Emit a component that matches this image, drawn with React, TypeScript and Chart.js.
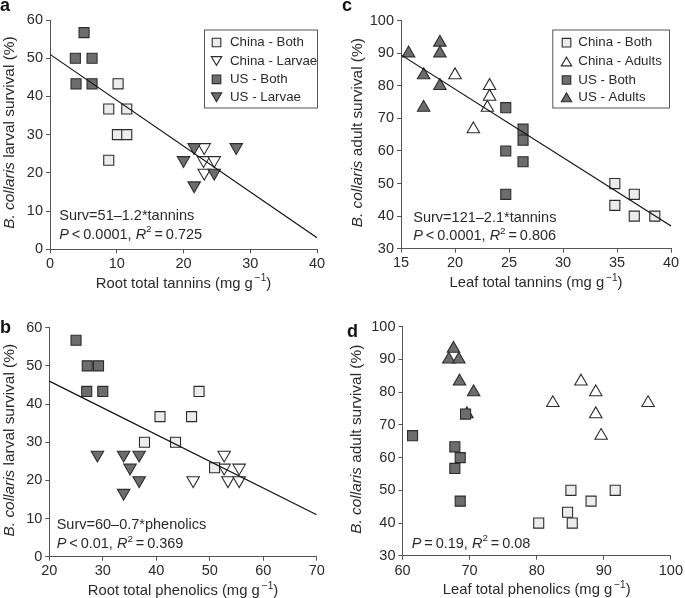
import React, { useEffect, useRef } from "react";
import { Chart, registerables } from "chart.js";

Chart.register(...registerables);

const W = 685;
const H = 598;
const FONT = "'Liberation Sans', Arial, Helvetica, sans-serif";
const TEXT = "#2a2a2a";
const AXIS = "#555555";
const DARK_FILL = "#6d6d6d";
const LIGHT_FILL = "#ececec";
const EDGE = "#2c2c2c";

// ---------- Panel a: root tannins vs larval survival ----------
const aChinaBothX = [10.2, 8.8, 11.5, 10.1, 11.5, 8.8];
const aChinaBothY = [43.3, 36.7, 36.7, 30, 30, 23.3];
const aChinaLarvaeX = [23.1, 23.0, 24.6, 23.1];
const aChinaLarvaeY = [26.7, 23.3, 23.3, 20];
const aUSBothX = [5.1, 3.8, 6.3, 3.9, 6.3];
const aUSBothY = [56.7, 50, 50, 43.3, 43.3];
const aUSLarvaeX = [21.6, 20.0, 24.6, 21.6, 27.9];
const aUSLarvaeY = [26.7, 23.3, 20, 16.7, 26.7];
const aFitX = [0, 40];
const aFitY = [51, 3];

// ---------- Panel b: root phenolics vs larval survival ----------
const bChinaBothX = [48.0, 40.7, 46.6, 37.8, 43.6, 50.9];
const bChinaBothY = [43.3, 36.7, 36.7, 30, 30, 23.3];
const bChinaLarvaeX = [52.7, 52.7, 55.5, 46.9, 53.4, 55.5];
const bChinaLarvaeY = [26.7, 23.3, 23.3, 20, 20, 20];
const bUSBothX = [25.0, 27.1, 29.2, 27.0, 30.0];
const bUSBothY = [56.7, 50, 50, 43.3, 43.3];
const bUSLarvaeX = [29.0, 33.9, 36.8, 35.1, 36.8, 33.9];
const bUSLarvaeY = [26.7, 26.7, 26.7, 23.3, 20, 16.7];
const bFitX = [20, 70];
const bFitY = [46, 11];

// ---------- Panel c: leaf tannins vs adult survival ----------
const cChinaBothX = [34.8, 34.8, 36.6, 36.6, 38.5];
const cChinaBothY = [50, 43.3, 46.7, 40, 40];
const cChinaAdultsX = [20.0, 23.2, 23.2, 23.0, 21.7];
const cChinaAdultsY = [83.3, 80, 76.7, 73.3, 66.7];
const cUSBothX = [24.7, 24.7, 24.7, 26.3, 26.3, 26.3];
const cUSBothY = [73.3, 60, 46.7, 66.7, 63.3, 56.7];
const cUSAdultsX = [15.7, 18.6, 18.6, 17.1, 18.6, 17.1];
const cUSAdultsY = [90, 93.3, 90, 83.3, 80, 73.3];
const cFitX = [15, 40];
const cFitY = [89.5, 37];

// ---------- Panel d: leaf phenolics vs adult survival ----------
const dChinaBothX = [80.3, 85.3, 85.1, 84.6, 88.1, 91.7];
const dChinaBothY = [40, 40, 50, 43.3, 46.7, 50];
const dChinaAdultsX = [82.4, 86.6, 88.8, 88.8, 89.6, 96.6];
const dChinaAdultsY = [76.7, 83.3, 80, 73.3, 66.7, 76.7];
const dUSBothX = [61.5, 67.8, 68.6, 67.8, 68.6, 69.4];
const dUSBothY = [66.7, 63.3, 60, 56.7, 46.7, 73.3];
const dUSAdultsX = [67.6, 66.9, 68.4, 68.5, 70.6, 69.6];
const dUSAdultsY = [93.3, 90, 90, 83.3, 80, 73.3];

type Seg = { t: string; i?: boolean; sup?: boolean };
type Kind = "chinaBoth" | "chinaDown" | "chinaUp" | "usBoth" | "usDown" | "usUp";

const KIND_STYLE: Record<Kind, { shape: "rect" | "triangle"; rot: number; fill: string }> = {
  chinaBoth: { shape: "rect", rot: 0, fill: LIGHT_FILL },
  chinaDown: { shape: "triangle", rot: 180, fill: "#ffffff" },
  chinaUp: { shape: "triangle", rot: 0, fill: "#ffffff" },
  usBoth: { shape: "rect", rot: 0, fill: DARK_FILL },
  usDown: { shape: "triangle", rot: 180, fill: DARK_FILL },
  usUp: { shape: "triangle", rot: 0, fill: DARK_FILL },
};

type Series = { label: string; kind: Kind; x: number[]; y: number[]; order: number };

type Panel = {
  letter: string;
  letterX: number;
  letterY: number;
  area: { l: number; r: number; t: number; b: number };
  xr: [number, number, number];
  yr: [number, number, number];
  xTitle: string;
  yTitleMid: string;
  yTitleX: number;
  series: Series[];
  fit?: { x: number[]; y: number[] };
  notes: { x: number; y: number; segs: Seg[] }[];
  legend?: { box: [number, number, number, number]; mx: number; tx: number; rows: number[] };
};

const panels: Panel[] = [
  {
    letter: "a",
    letterX: 0,
    letterY: 11,
    area: { l: 50, r: 317, t: 20, b: 249.3 },
    xr: [0, 40, 10],
    yr: [0, 60, 10],
    xTitle: "Root total tannins",
    yTitleMid: " larval survival (%)",
    yTitleX: 10,
    series: [
      { label: "China - Both", kind: "chinaBoth", x: aChinaBothX, y: aChinaBothY, order: 2 },
      { label: "China - Larvae", kind: "chinaDown", x: aChinaLarvaeX, y: aChinaLarvaeY, order: 4 },
      { label: "US - Both", kind: "usBoth", x: aUSBothX, y: aUSBothY, order: 1 },
      { label: "US - Larvae", kind: "usDown", x: aUSLarvaeX, y: aUSLarvaeY, order: 3 },
    ],
    fit: { x: aFitX, y: aFitY },
    notes: [
      { x: 59.3, y: 216, segs: [{ t: "Surv=51\u20131.2*tannins" }] },
      {
        x: 59.3,
        y: 234.5,
        segs: [{ t: "P", i: true }, { t: "\u2009<\u20090.0001, " }, { t: "R", i: true }, { t: "2", sup: true }, { t: "\u2009=\u20090.725" }],
      },
    ],
    legend: { box: [204, 29.5, 317, 107.5], mx: 216.5, tx: 230, rows: [42.5, 61, 79.3, 97.3] },
  },
  {
    letter: "c",
    letterX: 342,
    letterY: 11,
    area: { l: 401, r: 671, t: 20.7, b: 248.7 },
    xr: [15, 40, 5],
    yr: [30, 100, 10],
    xTitle: "Leaf total tannins",
    yTitleMid: " adult survival (%)",
    yTitleX: 358,
    series: [
      { label: "China - Both", kind: "chinaBoth", x: cChinaBothX, y: cChinaBothY, order: 2 },
      { label: "China - Adults", kind: "chinaUp", x: cChinaAdultsX, y: cChinaAdultsY, order: 4 },
      { label: "US - Both", kind: "usBoth", x: cUSBothX, y: cUSBothY, order: 1 },
      { label: "US - Adults", kind: "usUp", x: cUSAdultsX, y: cUSAdultsY, order: 3 },
    ],
    fit: { x: cFitX, y: cFitY },
    notes: [
      { x: 413.3, y: 217.7, segs: [{ t: "Surv=121\u20132.1*tannins" }] },
      {
        x: 413.3,
        y: 236.2,
        segs: [{ t: "P", i: true }, { t: "\u2009<\u20090.0001, " }, { t: "R", i: true }, { t: "2", sup: true }, { t: "\u2009=\u20090.806" }],
      },
    ],
    legend: { box: [552.3, 29.5, 669, 107.5], mx: 566.5, tx: 578.3, rows: [42.7, 61.5, 80, 97.3] },
  },
  {
    letter: "b",
    letterX: 0,
    letterY: 333,
    area: { l: 49.3, r: 316.7, t: 327.7, b: 556.7 },
    xr: [20, 70, 10],
    yr: [0, 60, 10],
    xTitle: "Root total phenolics",
    yTitleMid: " larval survival (%)",
    yTitleX: 10,
    series: [
      { label: "China - Both", kind: "chinaBoth", x: bChinaBothX, y: bChinaBothY, order: 2 },
      { label: "China - Larvae", kind: "chinaDown", x: bChinaLarvaeX, y: bChinaLarvaeY, order: 4 },
      { label: "US - Both", kind: "usBoth", x: bUSBothX, y: bUSBothY, order: 1 },
      { label: "US - Larvae", kind: "usDown", x: bUSLarvaeX, y: bUSLarvaeY, order: 3 },
    ],
    fit: { x: bFitX, y: bFitY },
    notes: [
      { x: 56.7, y: 525, segs: [{ t: "Surv=60\u20130.7*phenolics" }] },
      {
        x: 56.7,
        y: 544.3,
        segs: [{ t: "P", i: true }, { t: "\u2009<\u20090.01, " }, { t: "R", i: true }, { t: "2", sup: true }, { t: "\u2009=\u20090.369" }],
      },
    ],
  },
  {
    letter: "d",
    letterX: 347,
    letterY: 336.5,
    area: { l: 402.5, r: 672.7, t: 326.7, b: 555.8 },
    xr: [60, 100, 10],
    yr: [30, 100, 10],
    xTitle: "Leaf total phenolics",
    yTitleMid: " adult survival (%)",
    yTitleX: 357,
    series: [
      { label: "China - Both", kind: "chinaBoth", x: dChinaBothX, y: dChinaBothY, order: 2 },
      { label: "China - Adults", kind: "chinaUp", x: dChinaAdultsX, y: dChinaAdultsY, order: 4 },
      { label: "US - Both", kind: "usBoth", x: dUSBothX, y: dUSBothY, order: 1 },
      { label: "US - Adults", kind: "usUp", x: dUSAdultsX, y: dUSAdultsY, order: 3 },
    ],
    notes: [
      {
        x: 411.7,
        y: 543.5,
        segs: [{ t: "P", i: true }, { t: "\u2009=\u20090.19, " }, { t: "R", i: true }, { t: "2", sup: true }, { t: "\u2009=\u20090.08" }],
      },
    ],
  },
];

const Y_AXIS_W = 40;
const X_AXIS_H = 30;
const TICK_SIZE = 14.5;
const TITLE_SIZE = 14.8;
const LEGEND_SIZE = 13.3;

function fontFor(s: Seg, size: number) {
  const sz = s.sup ? size * 0.68 : size;
  return `${s.i ? "italic " : ""}${sz}px ${FONT}`;
}

function segsWidth(ctx: CanvasRenderingContext2D, segs: Seg[], size: number) {
  let w = 0;
  for (const s of segs) {
    ctx.font = fontFor(s, size);
    w += ctx.measureText(s.t).width;
  }
  return w;
}

function drawSegs(ctx: CanvasRenderingContext2D, segs: Seg[], x: number, y: number, size: number) {
  let cx = x;
  ctx.textBaseline = "middle";
  ctx.textAlign = "left";
  for (const s of segs) {
    ctx.font = fontFor(s, size);
    ctx.fillText(s.t, cx, s.sup ? y - size * 0.36 : y);
    cx += ctx.measureText(s.t).width;
  }
}

function drawMarker(ctx: CanvasRenderingContext2D, kind: Kind, x: number, y: number) {
  const st = KIND_STYLE[kind];
  ctx.save();
  ctx.fillStyle = st.fill;
  ctx.strokeStyle = EDGE;
  ctx.lineWidth = 1.1;
  ctx.beginPath();
  if (st.shape === "rect") {
    const h = 4.3;
    ctx.rect(x - h, y - h, 2 * h, 2 * h);
  } else {
    const hw = 5.2;
    const hh = 4.4;
    if (st.rot === 180) {
      ctx.moveTo(x - hw, y - hh);
      ctx.lineTo(x + hw, y - hh);
      ctx.lineTo(x, y + hh);
    } else {
      ctx.moveTo(x - hw, y + hh);
      ctx.lineTo(x + hw, y + hh);
      ctx.lineTo(x, y - hh);
    }
    ctx.closePath();
  }
  ctx.fill();
  ctx.stroke();
  ctx.restore();
}

function decorPlugin(p: Panel) {
  return {
    id: "decor_" + p.letter,
    afterDraw(chart: any) {
      const ctx: CanvasRenderingContext2D = chart.ctx;
      const ca = chart.chartArea;
      ctx.save();
      ctx.fillStyle = TEXT;

      // panel letter
      ctx.font = `bold 18px ${FONT}`;
      ctx.textAlign = "left";
      ctx.textBaseline = "alphabetic";
      ctx.fillStyle = "#111";
      ctx.fillText(p.letter, p.letterX, p.letterY);
      ctx.fillStyle = TEXT;

      // x title
      const xSegs: Seg[] = [{ t: p.xTitle + " (mg g" }, { t: "\u2009\u22121", sup: true }, { t: ")" }];
      const xw = segsWidth(ctx, xSegs, TITLE_SIZE);
      drawSegs(ctx, xSegs, (ca.left + ca.right) / 2 - xw / 2, ca.bottom + 34.5, TITLE_SIZE);

      // y title
      const ySegs: Seg[] = [{ t: "B. collaris", i: true }, { t: p.yTitleMid }];
      const yw = segsWidth(ctx, ySegs, TITLE_SIZE + 0.6);
      ctx.save();
      ctx.translate(p.yTitleX, (ca.top + ca.bottom) / 2 - 2);
      ctx.rotate(-Math.PI / 2);
      drawSegs(ctx, ySegs, -yw / 2, 0, TITLE_SIZE + 0.6);
      ctx.restore();

      // annotations
      for (const n of p.notes) drawSegs(ctx, n.segs, n.x, n.y, TICK_SIZE);

      // legend
      if (p.legend) {
        const lg = p.legend;
        ctx.strokeStyle = AXIS;
        ctx.lineWidth = 1;
        ctx.fillStyle = "#ffffff";
        ctx.fillRect(lg.box[0], lg.box[1], lg.box[2] - lg.box[0], lg.box[3] - lg.box[1]);
        ctx.strokeRect(lg.box[0] + 0.5, lg.box[1] + 0.5, lg.box[2] - lg.box[0], lg.box[3] - lg.box[1]);
        p.series.forEach((s, i) => {
          drawMarker(ctx, s.kind, lg.mx, lg.rows[i]);
          ctx.fillStyle = TEXT;
          ctx.font = `${LEGEND_SIZE}px ${FONT}`;
          ctx.textAlign = "left";
          ctx.textBaseline = "middle";
          ctx.fillText(s.label, lg.tx, lg.rows[i]);
        });
      }
      ctx.restore();
    },
  };
}

function axisOpts(min: number, max: number, step: number, isX: boolean) {
  return {
    type: "linear",
    min,
    max,
    ticks: {
      stepSize: step,
      autoSkip: false,
      maxRotation: 0,
      color: TEXT,
      padding: isX ? 2 : 3,
      font: { family: FONT, size: TICK_SIZE },
    },
    grid: {
      display: true,
      drawOnChartArea: false,
      drawTicks: true,
      tickLength: 4,
      color: AXIS,
      lineWidth: 1,
    },
    border: { display: true, color: AXIS, width: 1 },
    afterFit: (s: any) => {
      if (isX) s.height = X_AXIS_H;
      else s.width = Y_AXIS_W;
    },
  };
}

function buildConfig(p: Panel): any {
  const datasets: any[] = p.series.map((s) => {
    const st = KIND_STYLE[s.kind];
    const r = st.shape === "rect" ? 7.1 : 7.2;
    return {
      label: s.label,
      data: s.x.map((v, i) => ({ x: v, y: s.y[i] })),
      pointStyle: st.shape,
      pointRotation: st.rot,
      backgroundColor: st.fill,
      borderColor: EDGE,
      borderWidth: 1.1,
      pointRadius: r,
      pointHoverRadius: r,
      order: s.order,
    };
  });
  if (p.fit) {
    datasets.push({
      label: "fit",
      data: p.fit.x.map((v, i) => ({ x: v, y: p.fit!.y[i] })),
      showLine: true,
      borderColor: "#111111",
      borderWidth: 1.2,
      pointRadius: 0,
      pointHoverRadius: 0,
      fill: false,
      order: 0,
    });
  }
  const a = p.area;
  return {
    type: "scatter",
    data: { datasets },
    options: {
      responsive: false,
      animation: false,
      devicePixelRatio: 1,
      events: [],
      layout: {
        padding: {
          left: a.l - Y_AXIS_W,
          top: a.t,
          right: W - a.r,
          bottom: H - a.b - X_AXIS_H,
        },
      },
      plugins: { legend: { display: false }, tooltip: { enabled: false }, title: { display: false } },
      scales: {
        x: axisOpts(p.xr[0], p.xr[1], p.xr[2], true),
        y: axisOpts(p.yr[0], p.yr[1], p.yr[2], false),
      },
    },
    plugins: [decorPlugin(p)],
  };
}

function PanelCanvas({ panel }: { panel: Panel }) {
  const ref = useRef<HTMLCanvasElement | null>(null);
  useEffect(() => {
    if (!ref.current) return;
    const chart = new Chart(ref.current, buildConfig(panel));
    return () => chart.destroy();
  }, [panel]);
  return (
    <canvas
      ref={ref}
      width={W}
      height={H}
      style={{ position: "absolute", left: 0, top: 0, width: W, height: H }}
    />
  );
}

export default function App() {
  return (
    <div
      style={{
        position: "fixed",
        left: 0,
        top: 0,
        width: W,
        height: H,
        background: "#ffffff",
        overflow: "hidden",
      }}
    >
      {panels.map((p) => (
        <PanelCanvas key={p.letter} panel={p} />
      ))}
    </div>
  );
}
